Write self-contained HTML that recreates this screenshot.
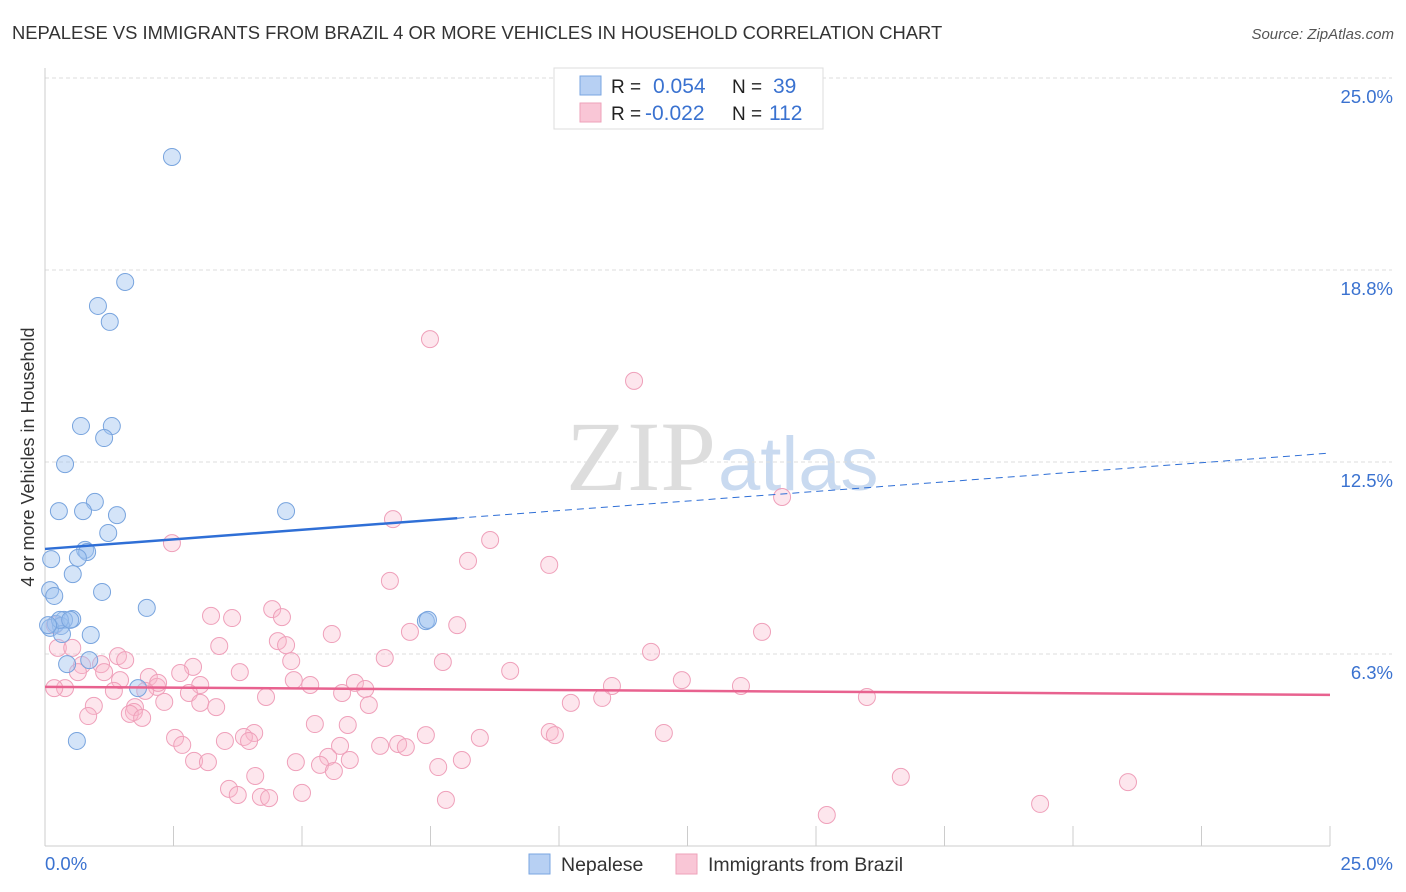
<!DOCTYPE html>
<html><head><meta charset="utf-8"><style>
body{margin:0;background:#fff;font-family:"Liberation Sans",sans-serif}
#w{position:relative;width:1406px;height:892px;overflow:hidden}
</style></head><body><div id="w">
<svg id="s" width="1406" height="892" xmlns="http://www.w3.org/2000/svg">
<text x="12" y="39" font-size="18.4" fill="#333">NEPALESE VS IMMIGRANTS FROM BRAZIL 4 OR MORE VEHICLES IN HOUSEHOLD CORRELATION CHART</text>
<text x="1394" y="39" font-size="15" fill="#555" font-style="italic" text-anchor="end">Source: ZipAtlas.com</text>
<text transform="translate(34,457) rotate(-90)" font-size="18" fill="#333" text-anchor="middle">4 or more Vehicles in Household</text>
<text x="716" y="490" font-size="100" font-family="Liberation Serif,serif" fill="#ddd" text-anchor="end">ZIP</text>
<text x="718" y="490" font-size="76" fill="#c9daf0">atlas</text>
<g id="grid"></g><g id="axes"></g><g id="pts"></g><g id="trend"></g>
<g>
<rect x="554" y="68" width="269" height="61" fill="#fff" stroke="#ddd"/>
<rect x="580" y="76" width="21" height="19" fill="#b7d0f3" stroke="#7aa6e2"/>
<rect x="580" y="103" width="21" height="19" fill="#f9c6d6" stroke="#eea2ba"/>
<text x="611" y="93" font-size="19" fill="#222">R =</text><text x="653" y="93" font-size="21" fill="#3a72d0">0.054</text>
<text x="732" y="93" font-size="19" fill="#222">N =</text><text x="773" y="93" font-size="21" fill="#3a72d0">39</text>
<text x="611" y="120" font-size="19" fill="#222">R =</text><text x="645" y="120" font-size="21" fill="#3a72d0">-0.022</text>
<text x="732" y="120" font-size="19" fill="#222">N =</text><text x="769" y="120" font-size="21" fill="#3a72d0">112</text>
</g>
<g>
<rect x="529" y="854" width="21" height="20" fill="#b7d0f3" stroke="#7aa6e2"/>
<text x="561" y="871" font-size="19.5" fill="#333">Nepalese</text>
<rect x="676" y="854" width="21" height="20" fill="#f9c6d6" stroke="#eea2ba"/>
<text x="708" y="871" font-size="19.5" fill="#333">Immigrants from Brazil</text>
</g>
</svg>
<script>
const yTicks=[6.25,12.5,18.75,25];
const yTickLabels=["6.3%","12.5%","18.8%","25.0%"];
const xTickLabels=["0.0%","25.0%"];
const nepX=[2.47,1.56,1.03,1.26,0.70,1.30,1.15,0.39,0.97,0.27,0.74,1.40,1.23,0.78,0.82,0.64,0.12,0.54,0.10,0.18,1.11,1.98,0.53,0.37,0.21,0.31,0.10,0.33,0.89,0.43,0.86,1.81,0.62,4.69,7.41,7.45,0.29,0.06,0.49];
const nepY=[22.43,18.36,17.58,17.06,13.67,13.67,13.28,12.43,11.2,10.9,10.9,10.77,10.19,9.64,9.57,9.38,9.34,8.85,8.33,8.14,8.27,7.75,7.39,7.36,7.23,7.16,7.10,6.90,6.87,5.92,6.05,5.14,3.42,10.9,7.32,7.36,7.36,7.19,7.36];
const braX=[7.49,11.46,14.34,6.77,8.66,2.47,8.23,9.81,6.71,4.42,4.61,3.23,3.64,8.02,13.95,5.58,7.10,4.53,3.39,4.69,0.19,0.25,0.53,11.79,1.42,1.56,6.61,4.79,7.74,1.09,0.72,2.88,0.64,1.15,3.79,9.05,2.63,2.02,1.46,4.84,6.03,12.39,11.03,3.02,2.18,0.39,0.18,5.16,2.20,6.23,13.54,1.34,2.80,1.95,4.30,5.78,15.99,10.84,2.32,10.23,1.75,3.02,0.95,6.30,3.33,1.73,1.65,1.89,0.84,5.25,5.89,9.82,9.92,7.41,4.07,3.87,12.04,8.46,2.53,2.67,3.50,3.97,5.74,6.52,6.87,7.02,5.51,2.90,4.88,8.11,3.17,5.35,5.93,7.65,5.62,4.09,16.65,21.07,3.58,3.75,5.00,4.20,4.36,7.80,19.36,15.21];
const braY=[16.50,15.14,11.36,10.64,9.96,9.86,9.28,9.15,8.63,7.71,7.45,7.49,7.42,7.19,6.97,6.90,6.97,6.67,6.51,6.54,7.19,6.45,6.45,6.32,6.18,6.05,6.12,6.02,5.99,5.92,5.89,5.83,5.66,5.66,5.66,5.70,5.63,5.50,5.40,5.40,5.31,5.40,5.21,5.24,5.18,5.14,5.14,5.24,5.31,5.11,5.21,5.05,4.98,5.05,4.85,4.98,4.85,4.82,4.69,4.66,4.52,4.66,4.56,4.59,4.52,4.36,4.30,4.17,4.23,3.97,3.94,3.71,3.61,3.61,3.68,3.55,3.68,3.52,3.52,3.29,3.42,3.42,3.26,3.26,3.32,3.22,2.90,2.77,2.73,2.80,2.73,2.64,2.80,2.57,2.44,2.28,2.25,2.08,1.86,1.66,1.73,1.60,1.56,1.50,1.37,1.01];
const nepTrend=[9.67,12.79], braTrend=[5.18,4.92];
const X=v=>45+v*51.4, Y=v=>846-v*30.72;
const NS="http://www.w3.org/2000/svg";
function mk(t,a,p){const e=document.createElementNS(NS,t);for(const k in a)e.setAttribute(k,a[k]);p.appendChild(e);return e;}
const grid=document.getElementById('grid'),axes=document.getElementById('axes'),pts=document.getElementById('pts'),tr=document.getElementById('trend');
yTicks.forEach((v,i)=>{
 const l=mk('line',{x1:45,x2:1392,y1:Y(v),y2:Y(v),stroke:'#ddd','stroke-dasharray':'4,3'},grid);
 
 
 const t=mk('text',{x:1393,y:Y(v)+25,'font-size':18.5,fill:'#3a72d0','text-anchor':'end'},grid);t.textContent=yTickLabels[i];
 
 
});
mk('line',{x1:45,x2:45,y1:68,y2:846,stroke:'#ccc'},axes);
mk('line',{x1:45,x2:1330,y1:846,y2:846,stroke:'#ccc'},axes);
for(let i=0;i<=10;i++){const x=X(i*2.5);const tk=mk('line',{x1:x,x2:x,y1:826,y2:846,stroke:'#ccc'},axes);
 
 }
const xl0=mk('text',{x:45,y:870,'font-size':18.5,fill:'#3a72d0'},axes);xl0.textContent=xTickLabels[0];


const xl1=mk('text',{x:1393,y:870,'font-size':18.5,fill:'#3a72d0','text-anchor':'end'},axes);xl1.textContent=xTickLabels[1];


braX.forEach((v,i)=>{const c=mk('circle',{cx:X(v),cy:Y(braY[i]),r:8.5,fill:'rgba(248,182,202,0.35)',stroke:'#efa0ba','stroke-width':1},pts);
 
 });
nepX.forEach((v,i)=>{const c=mk('circle',{cx:X(v),cy:Y(nepY[i]),r:8.5,fill:'rgba(160,196,240,0.45)',stroke:'#78a4de','stroke-width':1},pts);
 
 });
const ny=x=>nepTrend[0]+(nepTrend[1]-nepTrend[0])*x/25;
const l1=mk('line',{x1:X(0),y1:Y(ny(0)),x2:X(8.02),y2:Y(ny(8.02)),stroke:'#2f6fd6','stroke-width':2.5},tr);


const l2=mk('line',{x1:X(8.02),y1:Y(ny(8.02)),x2:X(25),y2:Y(ny(25)),stroke:'#2f6fd6','stroke-width':1,'stroke-dasharray':'7,5'},tr);


const l3=mk('line',{x1:X(0),y1:Y(braTrend[0]),x2:X(25),y2:Y(braTrend[1]),stroke:'#e8628f','stroke-width':2.5},tr);


</script>
</div></body></html>
